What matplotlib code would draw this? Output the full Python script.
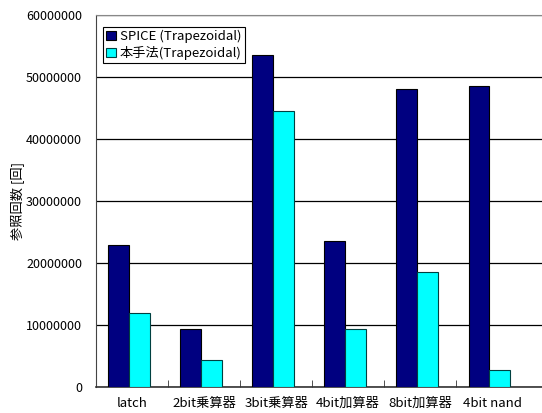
import numpy as np
import matplotlib
matplotlib.use('Agg')
import matplotlib.pyplot as plt
from matplotlib.patches import Patch

plt.rcParams['font.family'] = ['Noto Sans CJK JP', 'DejaVu Sans']

categories = ['latch', '2bit乗算器', '3bit乗算器', '4bit加算器', '8bit加算器', '4bit nand']
spice = [22900000, 9400000, 53500000, 23500000, 48100000, 48500000]
proposed = [12000000, 4300000, 44500000, 9350000, 18500000, 2700000]
series_names = ['SPICE (Trapezoidal)', '本手法(Trapezoidal)']

fig = plt.figure(figsize=(5.42, 4.13), dpi=100)
ax = fig.add_axes([96 / 542, 26 / 413, 446 / 542, 372 / 413])

x = np.arange(len(categories))
w = 0.29
ax.bar(x - w / 2 - 0.04, spice, w, color='#000080', edgecolor='#000000', linewidth=0.8, zorder=3)
ax.bar(x + w / 2 - 0.04, proposed, w, color='#00ffff', edgecolor='#004040', linewidth=0.8, zorder=3)

ax.set_ylim(0, 60000000)
ax.set_yticks(np.arange(0, 60000001, 10000000))
ax.set_yticklabels([str(v) for v in range(0, 60000001, 10000000)], fontsize=9)
ax.yaxis.grid(True, color='black', linewidth=0.9, zorder=0)
ax.tick_params(axis='y', length=0, pad=10)

ax.set_xlim(-0.5, 5.69)
ax.set_xticks(x)
ax.set_xticklabels(categories, fontsize=9.5)
ax.tick_params(axis='x', length=0, pad=7)
ax.set_xticks(np.arange(0.5, 5.5, 1), minor=True)
ax.tick_params(axis='x', which='minor', direction='in', length=5, color='#333333')

ax.spines['right'].set_visible(False)
ax.spines['top'].set_color('#888888')
ax.spines['left'].set_color('#444444')
ax.spines['bottom'].set_color('#333333')
ax.spines['bottom'].set_linewidth(1.2)

ax.set_ylabel('参照回数 [回]', fontsize=9.5, labelpad=1)

handles = [Patch(facecolor='#000080', edgecolor='black', linewidth=0.8),
           Patch(facecolor='#00ffff', edgecolor='#004040', linewidth=0.8)]
leg = ax.legend(handles, series_names, loc='upper left', bbox_to_anchor=(0.016, 0.968),
                fontsize=9.5, handlelength=0.7, handleheight=0.7, handletextpad=0.3,
                borderpad=0.25, labelspacing=0.2, fancybox=False, framealpha=1,
                edgecolor='black', borderaxespad=0)
leg.get_frame().set_linewidth(0.8)

fig.savefig('out.png', dpi=100)
